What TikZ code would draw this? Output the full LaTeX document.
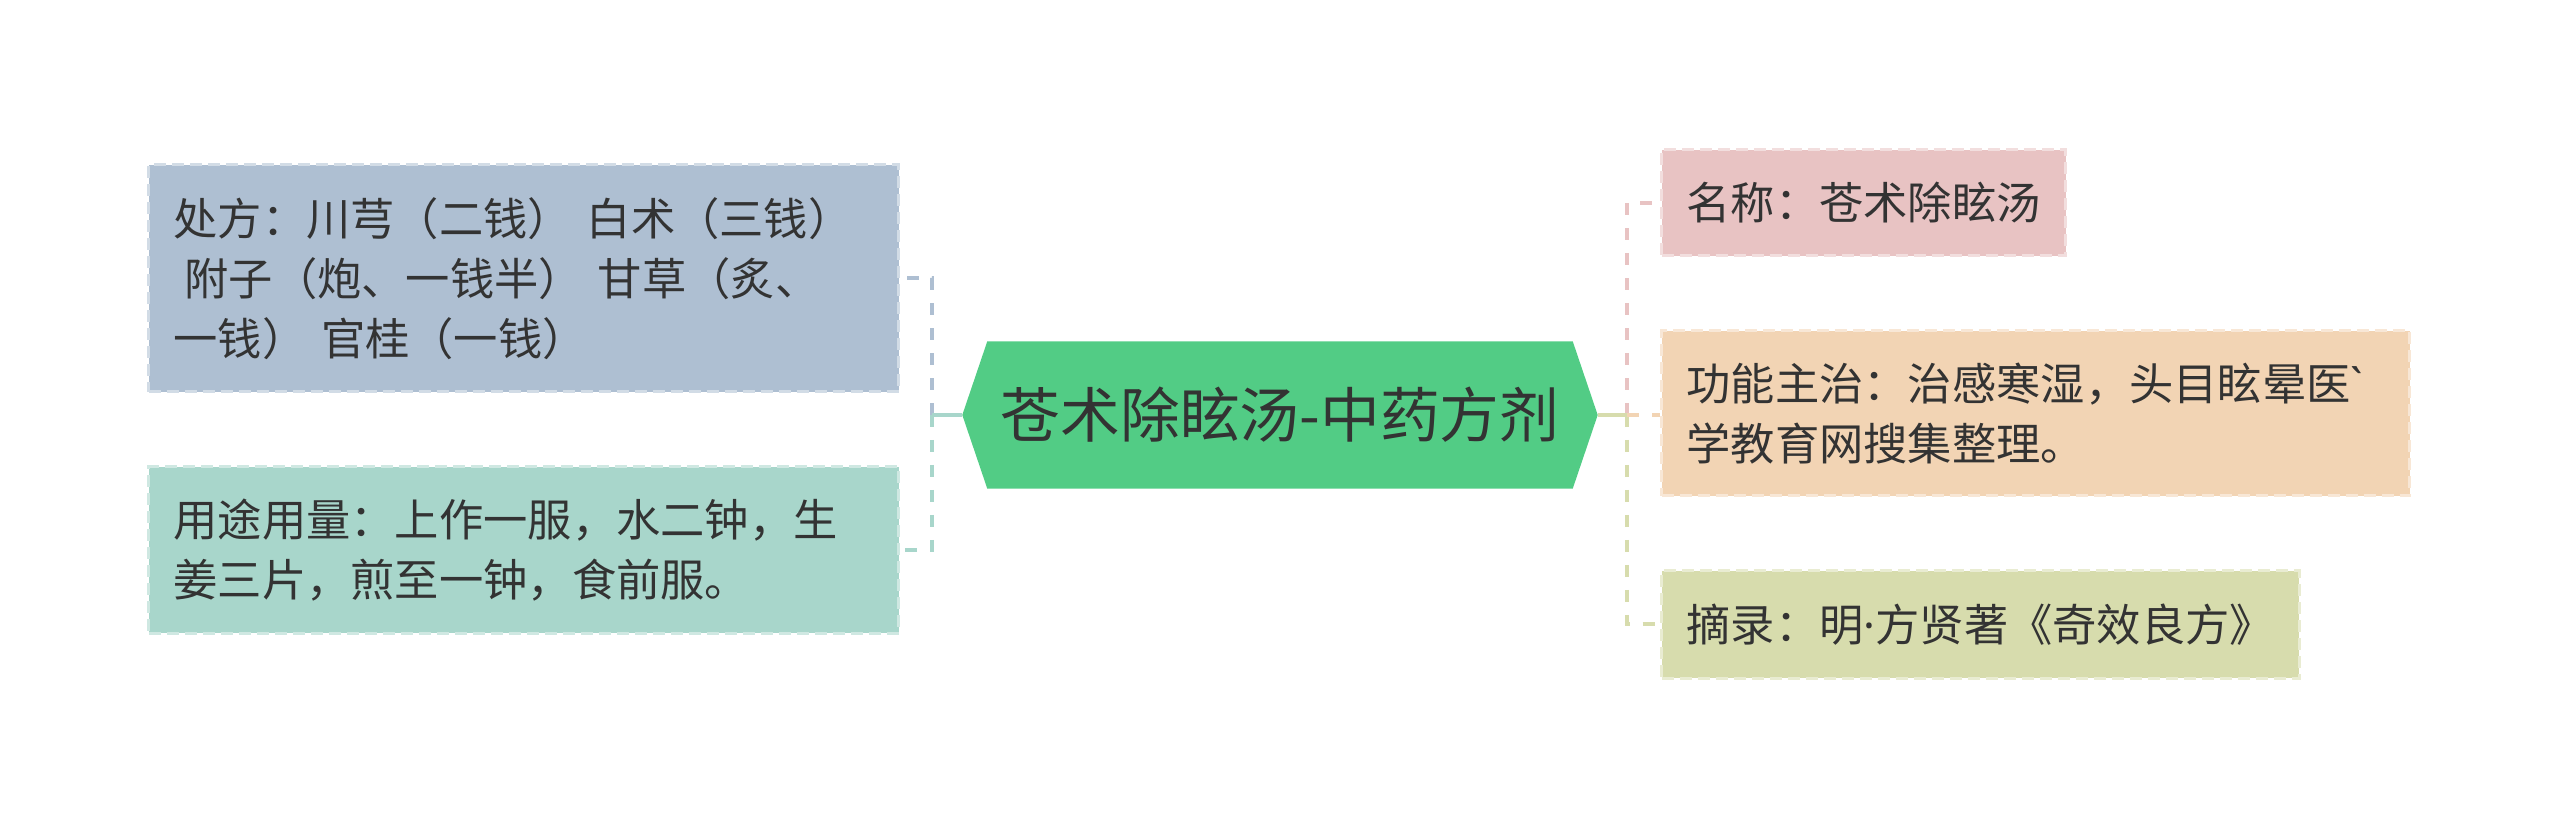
\documentclass[tikz,border=0pt]{standalone}
\usepackage{fontspec}
\setmainfont{Noto Sans CJK SC}[Ligatures=TeXOff]
\newfontfamily\latinfont{Noto Sans}[Ligatures=TeXOff]
\usepackage{tikz}
\usetikzlibrary{positioning, calc, backgrounds}

\definecolor{hubgreen}{HTML}{52CC85}
\definecolor{recipeblue}{HTML}{AEBFD2}
\definecolor{usagecyan}{HTML}{A8D6CB}
\definecolor{namepink}{HTML}{E8C3C3}
\definecolor{effectpeach}{HTML}{F2D4B4}
\definecolor{sourceolive}{HTML}{D7DCAD}
\definecolor{textgray}{HTML}{333333}

\begin{document}
\begin{tikzpicture}[
	% --- estilos ---
	hub/.style={
		rectangle, minimum width=5.84cm, minimum height=1.46cm, inner sep=0pt,
		text=textgray, font=\fontsize{17pt}{20pt}\selectfont
	},
	leaf/.style={
		rectangle, fill=#1, draw=#1!55!white, dash pattern=on 1.2mm off 0.6mm, line width=0.3mm,
		text=textgray, align=left, inner xsep=0.25cm, inner ysep=0.2cm,
		font=\fontsize{12.6pt}{17pt}\selectfont
	},
	trunk/.style={
		draw=#1, line width=0.4mm
	},
	branch/.style={
		draw=#1, line width=0.4mm, dash pattern=on 1.2mm off 1.3mm
	}
	]
	\useasboundingbox (0,0) rectangle (25.6,-8.29);
	
	% ==========================================
	% 1. Nodo central
	% ==========================================
	\node [hub] (hub) at (12.8,-4.15) {苍术除眩汤-中药方剂};
	\coordinate (hub_w) at ($(hub.west)+(-0.25,0)$);
	\coordinate (hub_e) at ($(hub.east)+(0.25,0)$);
	\begin{scope}[on background layer]
		\fill [hubgreen] (hub_w) -- (hub.north west) -- (hub.north east) -- (hub_e) -- (hub.south east) -- (hub.south west) -- cycle;
	\end{scope}
	
	% ==========================================
	% 2. Ramas izquierdas
	% ==========================================
	\node [leaf=recipeblue, text width=7.0cm, minimum height=2.27cm, anchor=east] (recipe) at (9.0,-2.785)
	{处方：川芎（二钱） 白术（三钱）\\\hspace*{0.25em}附子（炮、一钱半） 甘草（炙、\\一钱） 官桂（一钱）};
	\node [leaf=usagecyan, text width=7.0cm, minimum height=1.66cm, anchor=east] (usage) at (9.0,-5.50)
	{用途用量：上作一服，水二钟，生\\姜三片，煎至一钟，食前服。};
	
	\coordinate (split_l) at (9.32,-4.15);
	\draw [branch=recipeblue] (split_l) -- (split_l |- recipe.east) -- (recipe.east);
	\draw [branch=usagecyan] (split_l) -- (split_l |- usage.east) -- (usage.east);
	\draw [trunk=usagecyan] (hub_w) -- (split_l);
	
	% ==========================================
	% 3. Ramas derechas
	% ==========================================
	\node [leaf=namepink, minimum height=1.06cm, anchor=west] (name) at (16.6,-2.03) {名称：苍术除眩汤};
	\node [leaf=effectpeach, text width=6.98cm, minimum height=1.65cm, anchor=west] (effect) at (16.6,-4.135)
	{功能主治：治感寒湿，头目眩晕医{\latinfont `}\\学教育网搜集整理。};
	\node [leaf=sourceolive, minimum height=1.07cm, anchor=west] (source) at (16.6,-6.245) {摘录：明{\latinfont ·}方贤著《奇效良方》};
	
	\coordinate (split_r) at (16.27,-4.15);
	\draw [branch=namepink] (split_r) -- (split_r |- name.west) -- (name.west);
	\draw [branch=sourceolive] (split_r) -- (split_r |- source.west) -- (source.west);
	\draw [branch=effectpeach] (split_r) -- (effect.west |- split_r);
	\draw [trunk=sourceolive] (hub_e) -- (split_r);
\end{tikzpicture}
\end{document}
